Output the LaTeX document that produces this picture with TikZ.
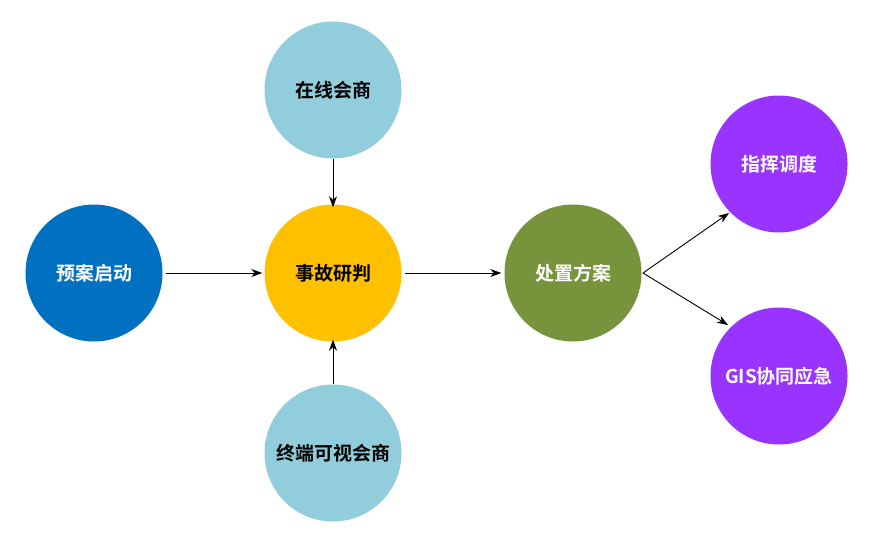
\documentclass[tikz,border=0pt]{standalone}
\usepackage{fontspec}
\setmainfont{Noto Sans CJK SC}[BoldFont={Noto Sans CJK SC Bold}]
\usetikzlibrary{arrows.meta}
\definecolor{cblue}{HTML}{0070C0}
\definecolor{cyellow}{HTML}{FFC000}
\definecolor{clight}{HTML}{92CDDC}
\definecolor{cgreen}{HTML}{77933C}
\definecolor{cpurple}{HTML}{9933FF}
\begin{document}
\begin{tikzpicture}[x=1pt,y=-1pt,
  bub/.style={circle,minimum size=137pt,inner sep=0pt,draw=none,font=\fontsize{19}{21}\selectfont\bfseries},
  conn/.style={draw=black,line width=0.9pt,-{Stealth[length=11pt,width=8pt,inset=3.5pt]}}]
\useasboundingbox (0,0) rectangle (880,542);
\fill[white] (0,0) rectangle (880,542);
\node[bub,fill=cblue,text=white] (qa) at (94,273) {预案启动};
\node[bub,fill=cyellow,text=black] (sg) at (333,273) {事故研判};
\node[bub,fill=clight,text=black] (zx) at (333,90) {在线会商};
\node[bub,fill=clight,text=black] (zd) at (333,453) {终端可视会商};
\node[bub,fill=cgreen,text=white] (cz) at (573,273) {处置方案};
\node[bub,fill=cpurple,text=white] (zh) at (779,164) {指挥调度};
\node[bub,fill=cpurple,text=white] (gis) at (779,376) {GIS协同应急};
\coordinate (fork) at (643,273);
\draw[conn] (qa.east) ++(3,0) -- ([xshift=-2pt]sg.west);
\draw[conn] (zx.south) -- ([yshift=-3pt]sg.north);
\draw[conn] (zd.north) -- ([yshift=2pt]sg.south);
\draw[conn] ([xshift=3pt]sg.east) -- ([xshift=-3pt]cz.west);
\draw[conn] (fork) -- (729,213);
\draw[conn] (fork) -- (728,325);
\end{tikzpicture}
\end{document}
